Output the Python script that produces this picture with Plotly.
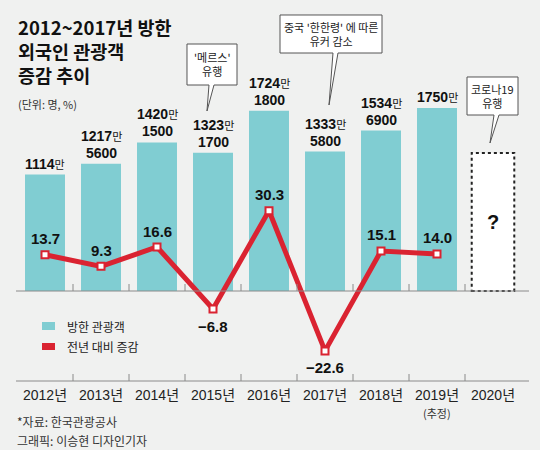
import plotly.graph_objects as go

years = ["2012년", "2013년", "2014년", "2015년", "2016년", "2017년", "2018년", "2019년", "2020년"]
visitors = [11140000, 12175600, 14201500, 13231700, 17241800, 13335800, 15346900, 17500000]
visitors_2020_box = 13200000  # empty "?" box for 2020
change_pct = [13.7, 9.3, 16.6, -6.8, 30.3, -22.6, 15.1, 14.0]
year_notes = {"2019년": "(추정)"}
title_lines = ["2012~2017년 방한", "외국인 관광객", "증감 추이"]

W, H = 540, 450
L, R = 17, 19
BG = "#f0f1f0"
TEAL = "#80cdd2"
RED = "#da2331"
AXIS = "#8a8a8a"
NUM = "Liberation Sans, Arial, Noto Sans CJK KR"
KR = "Noto Sans CJK KR, Noto Sans"


def px(x):
    return (x - L) / (W - L - R)


def py(y):
    return 1 - y / H


man = [v / 10000 for v in visitors] + [visitors_2020_box / 10000]
bar_colors = [TEAL] * len(visitors) + ["white"]

fig = go.Figure()
fig.add_trace(go.Bar(
    x=years, y=man, marker_color=bar_colors, marker_line_width=0,
    showlegend=False, hoverinfo="skip",
))
fig.add_trace(go.Scatter(
    x=years[:len(change_pct)], y=change_pct, yaxis="y2", mode="lines+markers",
    line=dict(color=RED, width=5),
    marker=dict(symbol="square", size=7, color="white", line=dict(color=RED, width=2)),
    showlegend=False, hoverinfo="skip",
))

ann = []
shapes = []


def text(x, y, s, size, family=KR, color="#222", xanchor="center", **kw):
    ann.append(dict(x=px(x), y=py(y), xref="paper", yref="paper", text=s, showarrow=False,
                    xanchor=xanchor, yanchor="middle", font=dict(family=family, size=size, color=color),
                    **kw))


# bar value labels
for i, v in enumerate(visitors):
    m, rest = divmod(v, 10000)
    top = f"<b>{m}</b><span style='font-size:11px'>만</span>"
    lines = [top, f"<b>{rest:04d}</b>"] if rest else [top]
    for j, s in enumerate(reversed(lines)):
        ann.append(dict(x=years[i], y=v / 10000, text=s, showarrow=False,
                        xanchor="center", yanchor="bottom", yshift=1 + 17 * j,
                        font=dict(family=NUM, size=14, color="#111")))

# percent labels
for i, c in enumerate(change_pct):
    txt = f"{c:.1f}".replace("-", "\u2212")
    ann.append(dict(x=years[i], y=c, yref="y2", text=f"<b>{txt}</b>", showarrow=False,
                    xanchor="center", yanchor="middle", yshift=16 if c >= 0 else -17,
                    font=dict(family=NUM, size=15, color="#111")))

# 2020 placeholder box
half = 0.38
shapes.append(dict(type="rect", xref="x", yref="y", x0=8 - half, x1=8 + half, y0=0,
                   y1=visitors_2020_box / 10000, line=dict(color="#222", width=2, dash="dot"),
                   fillcolor="white"))
ann.append(dict(x=years[8], y=visitors_2020_box / 20000, text="<b>?</b>", showarrow=False,
                xanchor="center", yanchor="middle",
                font=dict(family="Liberation Sans", size=20, color="#111")))

# axis lines and ticks
for yl in (291, 381):
    shapes.append(dict(type="line", xref="paper", yref="paper", x0=px(16), x1=px(529),
                       y0=py(yl), y1=py(yl), line=dict(color=AXIS, width=1)))
    for k in range(len(years) - 1):
        shapes.append(dict(type="line", xref="x", yref="paper", x0=k + 0.5, x1=k + 0.5,
                           y0=py(yl), y1=py(yl - 7), line=dict(color=AXIS, width=1)))

# year labels
for yr in years:
    ann.append(dict(x=yr, y=py(395), yref="paper", text=yr, showarrow=False,
                    xanchor="center", yanchor="middle",
                    font=dict(family=NUM, size=14, color="#222")))
    if yr in year_notes:
        ann.append(dict(x=yr, y=py(413), yref="paper", text=year_notes[yr], showarrow=False,
                        xanchor="center", yanchor="middle",
                        font=dict(family=KR, size=11, color="#333")))

# callouts
callouts = [
    ((187, 44, 237, 85), (209, 214, 207, 111), "'메르스'<br>유행"),
    ((280, 15, 382, 53), (333, 338, 329, 105), "중국 '한한령' 에 따른<br>유커 감소"),
    ((467, 77, 518, 115), (494, 499, 490, 143), "코로나19<br>유행"),
]
for (x0, y0, x1, y1), (t1, t2, tx, ty), txt in callouts:
    pts = [(x0, y0), (x1, y0), (x1, y1), (t2, y1), (tx, ty), (t1, y1), (x0, y1)]
    path = "M " + " L ".join(f"{px(a):.5f},{py(b):.5f}" for a, b in pts) + " Z"
    shapes.append(dict(type="path", xref="paper", yref="paper", path=path,
                       fillcolor="white", line=dict(color="#555", width=1)))
    text((x0 + x1) / 2, (y0 + y1) / 2, txt, 11)

# legend
for (yt, yb), col, lab in (((322, 330), TEAL, "방한 관광객"), ((343, 350), RED, "전년 대비 증감")):
    shapes.append(dict(type="rect", xref="paper", yref="paper", x0=px(42), x1=px(55),
                       y0=py(yb), y1=py(yt), fillcolor=col, line=dict(width=0)))
    text(65, (yt + yb) / 2, lab, 12, xanchor="left")

# title and notes
text(16, 51, "<b>" + "<br>".join(title_lines) + "</b>", 18.5, color="#111", xanchor="left",
     align="left")
text(16, 104, "(단위: 명, %)", 11, color="#333", xanchor="left")
text(15, 421, "*자료: 한국관광공사", 12, color="#333", xanchor="left")
text(15, 440, "그래픽: 이승현 디자인기자", 12, color="#333", xanchor="left")

# bars: 0 at y=291px, 1750만 at y=108px; percent: 2.65px per point, same zero
k_bar = 1750 / (291 - 108)
k_pct = 1 / 2.65
fig.update_layout(
    width=W, height=H,
    margin=dict(l=L, r=R, t=0, b=0),
    paper_bgcolor=BG, plot_bgcolor=BG,
    bargap=0.286,
    xaxis=dict(range=[-0.5, 8.5], visible=False, fixedrange=True),
    yaxis=dict(range=[-(H - 291) * k_bar, 291 * k_bar], visible=False),
    yaxis2=dict(range=[-(H - 291) * k_pct, 291 * k_pct], visible=False, overlaying="y"),
    annotations=ann,
    shapes=shapes,
)

fig.write_html("out.html", config={"displayModeBar": False},
               post_script="document.body.style.margin='0';document.body.style.background='#f0f1f0';")
